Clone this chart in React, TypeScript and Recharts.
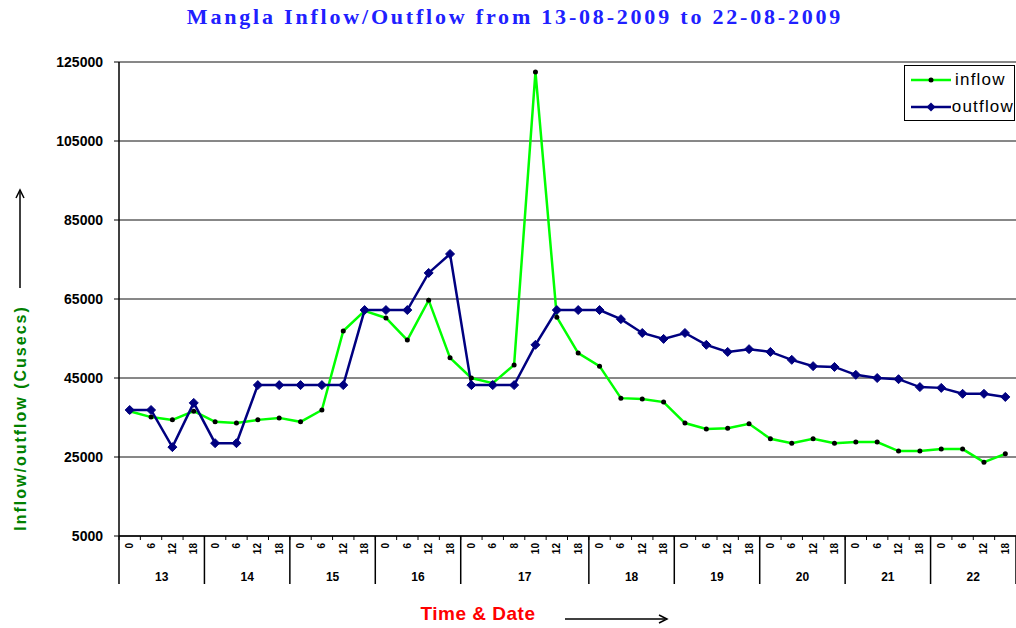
import React from "react";
import { CartesianGrid, Legend, Line, LineChart, XAxis, YAxis } from "recharts";

const days = [
  13, 13, 13, 13, 14, 14, 14, 14, 15, 15, 15, 15, 16, 16, 16, 16,
  17, 17, 17, 17, 17, 17, 18, 18, 18, 18, 19, 19, 19, 19,
  20, 20, 20, 20, 21, 21, 21, 21, 22, 22, 22, 22,
];
const hours = [
  0, 6, 12, 18, 0, 6, 12, 18, 0, 6, 12, 18, 0, 6, 12, 18,
  0, 6, 8, 10, 12, 18, 0, 6, 12, 18, 0, 6, 12, 18,
  0, 6, 12, 18, 0, 6, 12, 18, 0, 6, 12, 18,
];
const inflow = [
  36600, 35100, 34400, 36600, 33900, 33600, 34400, 34900,
  33900, 36900, 56900, 62000, 60200, 54600, 64700, 50100,
  45000, 43700, 48300, 122500, 60400, 51300,
  48000, 39900, 39700, 38900, 33600, 32100, 32300, 33400,
  29600, 28500, 29600, 28500, 28800, 28800, 26500, 26500,
  27000, 27000, 23700, 25800,
];
const outflow = [
  36900, 36900, 27500, 38700, 28500, 28500, 43200, 43200,
  43200, 43200, 43200, 62200, 62200, 62200, 71600, 76400,
  43200, 43200, 43200, 53400, 62200, 62200,
  62200, 59900, 56400, 54900, 56400, 53400, 51600, 52300,
  51600, 49600, 48000, 47800, 45800, 45000, 44700, 42700,
  42500, 41000, 41000, 40200,
];
const yTicks = [5000, 25000, 45000, 65000, 85000, 105000, 125000];

const data = days.map((d, i) => ({
  key: `${d}-${hours[i]}`,
  inflow: inflow[i],
  outflow: outflow[i],
}));

const W = 1016;
const H = 628;
const Y_AXIS_W = 119;
const MARGIN = { top: 62, right: 0, bottom: 42, left: 0 };
const BAND = (W - MARGIN.left - MARGIN.right - Y_AXIS_W) / data.length;
const FONT = "Arial, 'Liberation Sans', sans-serif";

function DayHourTick(props: any) {
  const { x, y, payload } = props;
  const i = payload.index;
  const isStart = i === 0 || days[i] !== days[i - 1];
  const isLast = i === days.length - 1;
  const groupSize = days.filter((d) => d === days[i]).length;
  const left = x - BAND / 2;
  return (
    <g>
      <line x1={left} y1={y} x2={left} y2={y + 4} stroke="#000" />
      {isLast && <line x1={x + BAND / 2} y1={y} x2={x + BAND / 2} y2={y + 48} stroke="#000" strokeWidth={1.5} />}
      <text
        x={x}
        y={y + 7}
        transform={`rotate(-90 ${x} ${y + 7})`}
        textAnchor="end"
        dy="0.35em"
        fontSize={10}
        fontWeight="bold"
        fontFamily={FONT}
        fill="#000"
      >
        {hours[i]}
      </text>
      {isStart && (
        <>
          <line x1={left} y1={y} x2={left} y2={y + 48} stroke="#000" strokeWidth={1.5} />
          <text
            x={x + ((groupSize - 1) * BAND) / 2}
            y={y + 45}
            textAnchor="middle"
            fontSize={12}
            fontWeight="bold"
            fontFamily={FONT}
            fill="#000"
          >
            {days[i]}
          </text>
        </>
      )}
    </g>
  );
}

function Diamond(props: any) {
  const { cx, cy, index } = props;
  const r = 4.5;
  return (
    <path
      key={`dia-${index}`}
      d={`M${cx},${cy - r} L${cx + r},${cy} L${cx},${cy + r} L${cx - r},${cy} Z`}
      fill="#000080"
      stroke="#000080"
    />
  );
}

function LegendBox() {
  const rows = [
    { name: "inflow", color: "#00ff00", marker: "dot" },
    { name: "outflow", color: "#000080", marker: "diamond" },
  ];
  return (
    <div
      style={{
        border: "1px solid #000",
        background: "#fff",
        width: 111,
        height: 56,
        boxSizing: "border-box",
        fontFamily: FONT,
      }}
    >
      {rows.map((r) => (
        <div key={r.name} style={{ display: "flex", alignItems: "center", height: 27 }}>
          <svg width={46} height={14} style={{ marginLeft: 4 }}>
            <line x1={2} y1={7} x2={42} y2={7} stroke={r.color} strokeWidth={2.5} />
            {r.marker === "dot" ? (
              <circle cx={22} cy={7} r={2.5} fill="#000" />
            ) : (
              <path d="M22,2.5 L26.5,7 L22,11.5 L17.5,7 Z" fill="#000080" />
            )}
          </svg>
          <span style={{ fontSize: 17, letterSpacing: 1.2, color: "#000" }}>{r.name}</span>
        </div>
      ))}
    </div>
  );
}

export default function App() {
  return (
    <div style={{ position: "absolute", left: 0, top: 0, width: W, height: H, background: "#fff" }}>
      <LineChart width={W} height={H} data={data} margin={MARGIN}>
        <CartesianGrid horizontal vertical={false} stroke="#111" strokeOpacity={1} />
        <XAxis
          dataKey="key"
          interval={0}
          height={50}
          padding={{ left: BAND / 2, right: BAND / 2 }}
          tickSize={0}
          tickMargin={0}
          tickLine={false}
          axisLine={{ stroke: "#000", strokeWidth: 1.5 }}
          tick={<DayHourTick />}
        />
        <YAxis
          type="number"
          domain={[5000, 125000]}
          ticks={yTicks}
          width={Y_AXIS_W}
          tickSize={5}
          tickMargin={11}
          axisLine={{ stroke: "#000", strokeWidth: 1.5 }}
          tickLine={{ stroke: "#000" }}
          tick={{ fill: "#000", fontSize: 14, fontWeight: "bold", fontFamily: FONT }}
        />
        <Legend
          verticalAlign="middle"
          align="center"
          layout="vertical"
          wrapperStyle={{ position: "absolute", top: 65, left: 904, right: "auto", bottom: "auto", width: 111 }}
          content={() => <LegendBox />}
        />
        <Line
          type="linear"
          dataKey="inflow"
          name="inflow"
          stroke="#00ff00"
          strokeWidth={2.5}
          dot={{ r: 2.5, fill: "#000", stroke: "none" }}
          isAnimationActive={false}
        />
        <Line
          type="linear"
          dataKey="outflow"
          name="outflow"
          stroke="#000080"
          strokeWidth={2.5}
          dot={<Diamond />}
          isAnimationActive={false}
        />
      </LineChart>
      <svg
        width={W}
        height={H}
        style={{ position: "absolute", left: 0, top: 0, pointerEvents: "none" }}
      >
        <text
          x={515}
          y={24}
          textAnchor="middle"
          fontSize={22}
          fontWeight="bold"
          letterSpacing={2.8}
          fontFamily="'Liberation Serif', 'Times New Roman', serif"
          fill="#2020ff"
        >
          Mangla Inflow/Outflow from 13-08-2009 to 22-08-2009
        </text>
        <text
          x={20}
          y={418}
          transform="rotate(-90 20 418)"
          textAnchor="middle"
          dy="0.35em"
          fontSize={16}
          fontWeight="bold"
          letterSpacing={2}
          fontFamily={FONT}
          fill="#008000"
        >
          Inflow/outflow (Cusecs)
        </text>
        <line x1={20} y1={288} x2={20} y2={192} stroke="#000" strokeWidth={1.5} />
        <path d="M16,198 L20,190 L24,198" fill="none" stroke="#000" strokeWidth={1.5} />
        <text
          x={478}
          y={620}
          textAnchor="middle"
          fontSize={19}
          fontWeight="bold"
          letterSpacing={0.5}
          fontFamily={FONT}
          fill="#ff0000"
        >
          Time &amp; Date
        </text>
        <line x1={565} y1={619} x2={665} y2={619} stroke="#000" strokeWidth={1.5} />
        <path d="M659,615 L667,619 L659,623" fill="none" stroke="#000" strokeWidth={1.5} />
      </svg>
    </div>
  );
}
